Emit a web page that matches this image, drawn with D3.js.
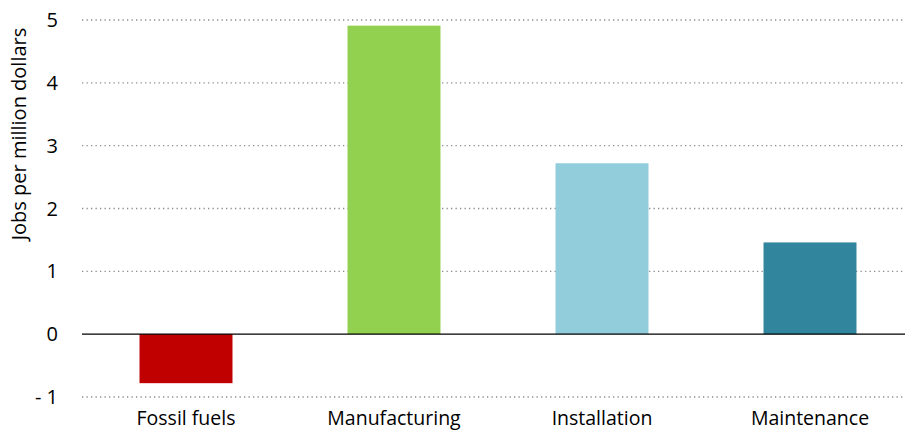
<!DOCTYPE html>
<html><head><meta charset="utf-8">
<script src="https://cdn.jsdelivr.net/npm/d3@7"></script>
<style>body{margin:0;background:#fff}text{font-family:"Open Sans",Calibri,sans-serif;fill:#000}</style>
</head><body><svg id="c" width="905" height="431"></svg>
<script>
const categories = ["Fossil fuels","Manufacturing","Installation","Maintenance"];
const values = [-0.78, 4.91, 2.72, 1.46];
const colors = ["#C00000","#92D050","#92CDDC","#31859C"];
const tickValues = [-1,0,1,2,3,4,5];
const tickLabels = ["- 1","0","1","2","3","4","5"];
const yTitle = "Jobs per million dollars";

const svg = d3.select("#c");
const x = d3.scaleBand().domain(categories).range([82,914]).paddingInner(0.553).paddingOuter(0.2765);
const y = d3.scaleLinear().domain([-1,5]).range([397,20]);

svg.append("g").selectAll("line").data(tickValues.filter(v=>v!==0)).join("line")
  .attr("x1",82).attr("x2",914).attr("y1",d=>y(d)).attr("y2",d=>y(d))
  .attr("stroke","#8c8c8c").attr("stroke-width",1.3).attr("stroke-dasharray","1.3,3.2");

svg.append("g").selectAll("text").data(tickValues).join("text")
  .attr("x",58).attr("y",d=>y(d)).attr("dy","0.35em").attr("text-anchor","end")
  .attr("font-size",20).text((d,i)=>tickLabels[i]);

svg.append("g").selectAll("rect").data(values).join("rect")
  .attr("x",(d,i)=>x(categories[i])).attr("width",x.bandwidth())
  .attr("y",d=>y(Math.max(0,d))).attr("height",d=>Math.abs(y(d)-y(0)))
  .attr("fill",(d,i)=>colors[i]);

svg.append("line").attr("x1",82).attr("x2",914).attr("y1",y(0)).attr("y2",y(0))
  .attr("stroke","#000").attr("stroke-width",1.3);

svg.append("g").selectAll("text").data(categories).join("text")
  .attr("x",d=>x(d)+x.bandwidth()/2).attr("y",425).attr("text-anchor","middle")
  .attr("font-size",19.5).text(d=>d);

svg.append("text").attr("transform","translate(26,134) rotate(-90)")
  .attr("text-anchor","middle").attr("font-size",20).text(yTitle);
</script></body></html>
